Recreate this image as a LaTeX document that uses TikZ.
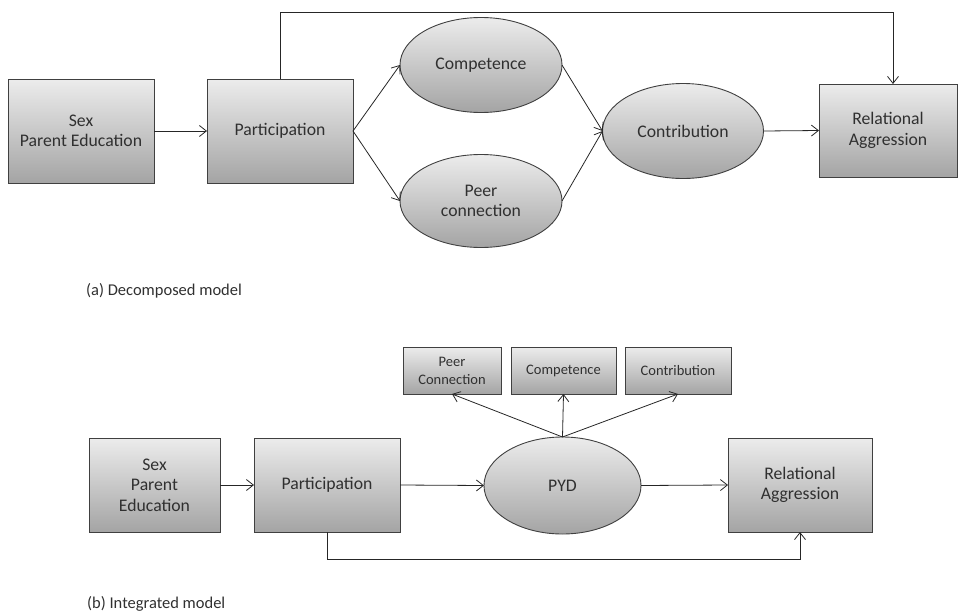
\documentclass[tikz,border=0pt]{standalone}
\usepackage{fontspec}
\setmainfont{Carlito}
\usetikzlibrary{arrows.meta,shapes.geometric}
\definecolor{txt}{HTML}{303030}
\definecolor{edge}{HTML}{404040}
\definecolor{gtop}{HTML}{ECECEC}
\definecolor{gbot}{HTML}{A4A4A4}
\tikzset{
  base/.style={draw=edge, line width=0.9pt, top color=gtop, bottom color=gbot,
    text=txt, align=center, inner sep=0pt, outer sep=0pt,
    font=\fontsize{17.7}{20.5}\selectfont},
  bigbox/.style={base, rectangle},
  oval/.style={base, ellipse},
  smallbox/.style={base, rectangle, font=\fontsize{14.5}{18}\selectfont},
  arr/.style={draw=black!85, line width=0.8pt, -{Straight Barb[length=7pt,width=11pt]}},
  caption/.style={anchor=west, inner sep=0pt, text=txt, font=\fontsize{16.5}{19}\selectfont}
}
\begin{document}
\begin{tikzpicture}[x=1pt,y=-1pt]
\useasboundingbox (0,0) rectangle (958,613);
% (a) Decomposed model
\node[bigbox, minimum width=146pt, minimum height=104pt] (sexA) at (81,131) {Sex\\Parent Education};
\node[bigbox, minimum width=146pt, minimum height=104pt] (partA) at (280,131) {Participation};
\node[oval, minimum width=162pt, minimum height=95pt] (compA) at (481,65) {Competence};
\node[oval, minimum width=162pt, minimum height=93pt] (peerA) at (481,201) {Peer\\connection};
\node[oval, minimum width=161pt, minimum height=95pt] (contA) at (683,131) {Contribution};
\node[bigbox, minimum width=138pt, minimum height=93pt] (relA) at (888,130.5) {Relational\\Aggression};
\coordinate (topA) at (893,12);
\draw[arr] (sexA.east) -- (partA.west);
\draw[arr] (partA.east) -- (compA.west);
\draw[arr] (partA.east) -- (peerA.west);
\draw[arr] (compA.east) -- (contA.west);
\draw[arr] (peerA.east) -- (contA.west);
\draw[arr] (contA.east) -- (relA.west);
\draw[arr] (partA.north) |- (topA) -- (topA |- relA.north);
\node[caption] (capA) at (86,291) {(a) Decomposed model};
% (b) Integrated model
\node[bigbox, minimum width=131pt, minimum height=94pt] (sexB) at (154.5,485) {Sex\\Parent\\Education};
\node[bigbox, minimum width=146pt, minimum height=94pt] (partB) at (327,485) {Participation};
\node[oval, minimum width=157pt, minimum height=97pt] (pyd) at (562.5,485.5) {PYD};
\node[bigbox, minimum width=144pt, minimum height=94pt] (relB) at (800,485) {Relational\\Aggression};
\node[smallbox, minimum width=98pt, minimum height=47pt] (pcB) at (452,370.5) {Peer\\Connection};
\node[smallbox, minimum width=105pt, minimum height=47pt] (compB) at (563.5,370.5) {Competence};
\node[smallbox, minimum width=106pt, minimum height=47pt] (contB) at (678,370.5) {Contribution};
\coordinate (botB) at (800,559);
\draw[arr] (sexB.east) -- (partB.west);
\draw[arr] (partB.east) -- (pyd.west);
\draw[arr] (pyd.east) -- (relB.west);
\draw[arr] (pyd.north) -- (pcB.south);
\draw[arr] (pyd.north) -- (compB.south);
\draw[arr] (pyd.north) -- (contB.south);
\draw[arr] (partB.south) |- (botB) -- (relB.south);
\node[caption] (capB) at (87,604) {(b) Integrated model};
\end{tikzpicture}
\end{document}
